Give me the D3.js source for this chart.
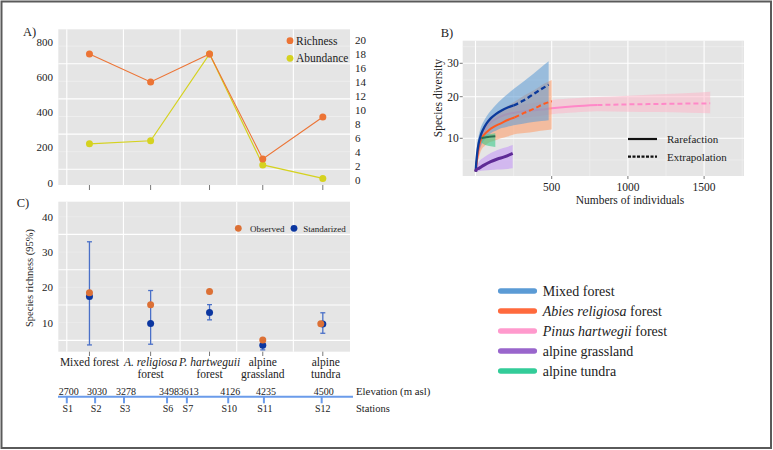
<!DOCTYPE html>
<html>
<head>
<meta charset="utf-8">
<script src="https://cdn.jsdelivr.net/npm/d3@7"></script>
<style>
body{margin:0;background:#fff;}
svg text{font-family:"Liberation Serif","Times New Roman","DejaVu Serif",serif !important;fill:#222;}
</style>
</head>
<body>
<div id="chart"></div>
<script>

// ---- data: panel A / C (sites) ----
var sites = ["Mixed forest", "A. religiosa forest", "P. hartweguii forest", "alpine grassland", "alpine tundra"];
var sitePos = [0.4, 1.48, 2.52, 3.46, 4.52];
var richness = [18, 14, 18, 3, 9];
var abundance = [220, 237, 730, 100, 23];
var leftTicks = [0, 200, 400, 600, 800];
var rightTicks = [0, 2, 4, 6, 8, 10, 12, 14, 16, 18, 20];

var observed = [18.5, 15.1, 18.8, 5.1, 9.7];
var standardized = [17.4, 9.8, 12.9, 3.6, 9.6];
var ciLow = [3.7, 3.9, 10.8, 2.3, 7.0];
var ciHigh = [32.9, 19.1, 15.1, 4.8, 12.8];
var cTicks = [10, 20, 30, 40];

// ---- data: elevation / stations ----
var elevations = [2700, 3030, 3278, 3498, 3613, 4126, 4235, 4500];
var stations = ["S1", "S2", "S3", "S6", "S7", "S10", "S11", "S12"];
var stationPos = [0, 0.5, 1.01, 1.77, 2.12, 2.85, 3.48, 4.5];

// ---- data: panel B (rarefaction / extrapolation) ----
var mixedN  = [1, 5, 11, 20, 33, 51, 73, 100, 133, 171, 211, 250, 311, 378, 433, 480];
var mixedS  = [2.3, 4.3, 6.5, 8.7, 10.55, 12.2, 13.6, 14.8, 15.8, 16.7, 17.4, 17.9, 19.0, 20.7, 22.3, 23.6];
var mixedHi = [2.3, 5.5, 8.8, 10.5, 12.4, 13.9, 15.3, 16.6, 18.0, 19.4, 20.8, 22.3, 24.4, 26.8, 28.9, 30.6];
var mixedLo = [2.3, 3.5, 5.0, 6.7, 8.0, 9.3, 10.2, 11.2, 11.8, 12.45, 12.8, 13.15, 13.5, 13.9, 14.15, 14.35];

var abiesN  = [1, 7, 16, 27, 40, 60, 89, 122, 167, 211, 256, 322, 389, 444, 500];
var abiesS  = [2.3, 4.2, 6.9, 8.8, 10.0, 11.0, 12.0, 12.8, 13.6, 14.4, 15.0, 16.15, 17.2, 18.2, 18.9];
var abiesHi = [2.3, 5.0, 7.5, 9.5, 11.0, 12.6, 14.3, 15.5, 16.8, 17.8, 18.8, 20.4, 22.1, 23.7, 25.0];
var abiesLo = [2.3, 3.3, 4.8, 6.2, 7.4, 8.2, 9.0, 9.45, 10.0, 10.45, 11.0, 11.3, 11.6, 11.85, 12.1];

var pinusN  = [1, 10, 22, 44, 78, 122, 189, 256, 344, 433, 500, 650, 800, 1000, 1200, 1400, 1540];
var pinusS  = [2.3, 5.0, 7.3, 10.4, 12.95, 14.4, 15.6, 16.15, 16.6, 16.9, 17.2, 17.7, 18.0, 18.15, 18.25, 18.35, 18.4];
var pinusHi = [2.3, 6.0, 8.8, 12.0, 14.5, 15.9, 17.0, 17.7, 18.3, 18.8, 19.2, 19.6, 19.9, 20.3, 20.7, 21.1, 21.5];
var pinusLo = [2.3, 4.0, 6.0, 8.8, 11.0, 12.6, 13.8, 14.5, 15.0, 15.4, 15.8, 16.2, 16.5, 16.4, 16.3, 16.15, 16.0];

var grassN  = [1, 7, 22, 56, 100, 144, 189, 244];
var grassS  = [2.3, 2.8, 3.05, 3.8, 4.6, 5.2, 5.7, 6.5];
var grassHi = [2.3, 3.3, 4.5, 5.6, 6.6, 7.3, 7.8, 8.45];
var grassLo = [2.3, 2.3, 2.4, 2.55, 2.66, 2.75, 2.85, 3.05];

var tundraN  = [38, 60, 90, 130];
var tundraS  = [10.0, 10.2, 10.35, 10.5];
var tundraHi = [10.5, 10.8, 11.0, 11.2];
var tundraLo = [9.0, 8.5, 8.2, 8.0];

var sampleSize = {mixed: 250, abies: 256, pinus: 800, grass: 244, tundra: 130};
var bXTicks = [500, 1000, 1500];
var bYTicks = [10, 20, 30];

var habitats = ["Mixed forest", "Abies religiosa forest", "Pinus hartwegii forest", "alpine grassland", "alpine tundra"];

// ---- colours ----
var bgCol = "#e5e5e5";
var cRich = "#ec7435", cAbun = "#d5d21f";
var cObs = "#dc7035", cStd = "#0b36a0", cErr = "#4a70c8";
var cElev = "#6a9bea";
var legendCol = ["#5b9bd5", "#ff6a3d", "#ff9acd", "#9966cc", "#33cc99"];
var serif = "'Liberation Serif', 'Times New Roman', 'DejaVu Serif', serif";

var svg = d3.select("#chart").append("svg")
    .attr("width", 773)
    .attr("height", 450)
    .attr("font-family", serif);

svg.append("rect")
    .attr("x", 1.5).attr("y", 1.5)
    .attr("width", 769.5).attr("height", 446.5)
    .attr("fill", "none")
    .attr("stroke", "#5a5a5a")
    .attr("stroke-width", 2);

function label(g, x, y, s, size, anchor){
    return g.append("text")
        .attr("x", x).attr("y", y)
        .attr("dominant-baseline", "central")
        .attr("text-anchor", anchor || "start")
        .style("font-family", serif)
        .style("font-size", size + "px")
        .text(s);
}

var x = d3.scaleLinear().domain([-0.15, 5.0]).range([58.3, 350]);
var vGrid = [0, 1, 2, 3, 4];

/** Panel A **/
var gA = svg.append("g").attr("class", "panelA");
var yL = d3.scaleLinear().domain([0, 800]).range([182.5, 41.7]);
var yR = d3.scaleLinear().domain([0, 20]).range([180, 40]);
var gridAMajor = [75, 275, 475, 675], gridAMinor = [175, 375, 575, 775];

gA.append("rect").attr("x", x.range()[0]).attr("y", 29.3)
    .attr("width", x.range()[1] - x.range()[0]).attr("height", 185 - 29.3)
    .attr("fill", bgCol);
gA.selectAll(".gmin").data(gridAMinor).enter().append("line")
    .attr("x1", x.range()[0]).attr("x2", x.range()[1])
    .attr("y1", function(d){ return yL(d); }).attr("y2", function(d){ return yL(d); })
    .attr("stroke", "#f4f4f4").attr("stroke-width", 0.6);
gA.selectAll(".gmaj").data(gridAMajor).enter().append("line")
    .attr("x1", x.range()[0]).attr("x2", x.range()[1])
    .attr("y1", function(d){ return yL(d); }).attr("y2", function(d){ return yL(d); })
    .attr("stroke", "#fff").attr("stroke-width", 1.1);
gA.selectAll(".gv").data(vGrid).enter().append("line")
    .attr("x1", function(d){ return x(d); }).attr("x2", function(d){ return x(d); })
    .attr("y1", 29.3).attr("y2", 185)
    .attr("stroke", "#fff").attr("stroke-width", 1.1);

leftTicks.forEach(function(t){ label(gA, 53, yL(t), t, 11, "end"); });
rightTicks.forEach(function(t){ label(gA, 355, yR(t), t, 11, "start"); });

gA.selectAll(".tick").data(sitePos).enter().append("line")
    .attr("x1", function(d){ return x(d); }).attr("x2", function(d){ return x(d); })
    .attr("y1", 185).attr("y2", 190)
    .attr("stroke", "#555").attr("stroke-width", 0.8);

var lineA = d3.line();
gA.append("path")
    .attr("d", lineA(sitePos.map(function(p, i){ return [x(p), yL(abundance[i])]; })))
    .attr("fill", "none").attr("stroke", cAbun).attr("stroke-width", 1.2);
gA.append("path")
    .attr("d", lineA(sitePos.map(function(p, i){ return [x(p), yR(richness[i])]; })))
    .attr("fill", "none").attr("stroke", cRich).attr("stroke-width", 1.1);
gA.selectAll(".dotAb").data(abundance).enter().append("circle")
    .attr("cx", function(d, i){ return x(sitePos[i]); })
    .attr("cy", function(d){ return yL(d); })
    .attr("r", 3.5).attr("fill", cAbun);
gA.selectAll(".dotRi").data(richness).enter().append("circle")
    .attr("cx", function(d, i){ return x(sitePos[i]); })
    .attr("cy", function(d){ return yR(d); })
    .attr("r", 3.5).attr("fill", cRich);

gA.append("circle").attr("cx", 290).attr("cy", 40.7).attr("r", 3.4).attr("fill", cRich);
label(gA, 296, 40.7, "Richness", 11.5);
gA.append("circle").attr("cx", 290).attr("cy", 58.3).attr("r", 3.4).attr("fill", cAbun);
label(gA, 296, 58.3, "Abundance", 11.5);
label(gA, 23, 31.7, "A)", 12.5);

/** Panel C **/
var gC = svg.append("g").attr("class", "panelC");
var yC = d3.scaleLinear().domain([0, 40]).range([358, 216.7]);
var gridCMajor = [5, 15, 25, 35], gridCMinor = [10, 20, 30, 40];

gC.append("rect").attr("x", x.range()[0]).attr("y", 201.7)
    .attr("width", x.range()[1] - x.range()[0]).attr("height", 351.7 - 201.7)
    .attr("fill", bgCol);
gC.selectAll(".gmin").data(gridCMinor).enter().append("line")
    .attr("x1", x.range()[0]).attr("x2", x.range()[1])
    .attr("y1", function(d){ return yC(d); }).attr("y2", function(d){ return yC(d); })
    .attr("stroke", "#eeeeee").attr("stroke-width", 0.6);
gC.selectAll(".gmaj").data(gridCMajor).enter().append("line")
    .attr("x1", x.range()[0]).attr("x2", x.range()[1])
    .attr("y1", function(d){ return yC(d); }).attr("y2", function(d){ return yC(d); })
    .attr("stroke", "#fff").attr("stroke-width", 1.1);
gC.selectAll(".gv").data(vGrid).enter().append("line")
    .attr("x1", function(d){ return x(d); }).attr("x2", function(d){ return x(d); })
    .attr("y1", 201.7).attr("y2", 351.7)
    .attr("stroke", "#fff").attr("stroke-width", 1.1);

cTicks.forEach(function(t){ label(gC, 53, yC(t), t, 11, "end"); });
gC.append("text")
    .attr("transform", "translate(29.3,278) rotate(-90)")
    .attr("text-anchor", "middle").attr("dominant-baseline", "central")
    .style("font-family", serif)
    .style("font-size", "10.5px")
    .text("Species richness (95%)");

gC.selectAll(".tick").data(sitePos).enter().append("line")
    .attr("x1", function(d){ return x(d); }).attr("x2", function(d){ return x(d); })
    .attr("y1", 351.7).attr("y2", 356)
    .attr("stroke", "#555").attr("stroke-width", 0.8);

// error bars
sitePos.forEach(function(p, i){
    var cx = x(p);
    gC.append("line").attr("x1", cx).attr("x2", cx)
        .attr("y1", yC(ciLow[i])).attr("y2", yC(ciHigh[i]))
        .attr("stroke", cErr).attr("stroke-width", 1.3);
    [ciLow[i], ciHigh[i]].forEach(function(v){
        gC.append("line").attr("x1", cx - 2.5).attr("x2", cx + 2.5)
            .attr("y1", yC(v)).attr("y2", yC(v))
            .attr("stroke", cErr).attr("stroke-width", 1.3);
    });
});
gC.selectAll(".dotStd").data(standardized).enter().append("circle")
    .attr("cx", function(d, i){ return x(sitePos[i]); })
    .attr("cy", function(d){ return yC(d); })
    .attr("r", 3.5).attr("fill", cStd);
gC.selectAll(".dotObs").data(observed).enter().append("circle")
    .attr("cx", function(d, i){ return x(sitePos[i]) - (i == 4 ? 2 : 0); })
    .attr("cy", function(d){ return yC(d); })
    .attr("r", 3.5).attr("fill", cObs);

gC.append("circle").attr("cx", 238.3).attr("cy", 228.3).attr("r", 3.4).attr("fill", cObs);
label(gC, 250, 229, "Observed", 9);
gC.append("circle").attr("cx", 294).attr("cy", 228.3).attr("r", 3.4).attr("fill", cStd);
label(gC, 303.3, 229, "Standarized", 9);
label(gC, 16.7, 203.3, "C)", 12.5);

// x labels (two lines, italic genus)
var siteLines = [
    [{t: "Mixed forest"}],
    [{t: "A. religiosa", it: true}, {t: "forest"}],
    [{t: "P. hartweguii", it: true}, {t: "forest"}],
    [{t: "alpine"}, {t: "grassland"}],
    [{t: "alpine"}, {t: "tundra"}]
];
siteLines.forEach(function(lines, i){
    lines.forEach(function(l, k){
        label(gC, x(sitePos[i]) + (i == 4 ? 3 : 0), 361.7 + k * 12.6, l.t, 11.5, "middle")
            .style("font-style", l.it ? "italic" : "normal");
    });
});

/** Elevation / stations **/
var gE = svg.append("g").attr("class", "elev");
gE.append("line").attr("x1", 58).attr("x2", 353).attr("y1", 396.7).attr("y2", 396.7)
    .attr("stroke", cElev).attr("stroke-width", 2);
gE.selectAll(".st").data(stationPos).enter().append("line")
    .attr("x1", function(d){ return x(d); }).attr("x2", function(d){ return x(d); })
    .attr("y1", 396.7).attr("y2", 403.3)
    .attr("stroke", cElev).attr("stroke-width", 2);
elevations.forEach(function(e, i){ label(gE, x(stationPos[i]) + 2, 391, e, 10, "middle"); });
stations.forEach(function(s, i){ label(gE, x(stationPos[i]) + 1, 408.5, s, 10, "middle"); });
label(gE, 356, 391, "Elevation (m asl)", 10.8);
label(gE, 356, 408.5, "Stations", 10.5);

/** Panel B **/
var gB = svg.append("g").attr("class", "panelB");
var xB = d3.scaleLinear().domain([0, 1500]).range([475.5, 704.1]);
var yB = d3.scaleLinear().domain([0, 10, 20, 30, 40]).range([181.5, 138.3, 96.7, 63.3, 30]);
var bL = 462.7, bR = 744, bT = 40.7, bBt = 176;

gB.append("rect").attr("x", bL).attr("y", bT).attr("width", bR - bL).attr("height", bBt - bT)
    .attr("fill", bgCol);
[250, 750, 1250, 1750].forEach(function(v){
    if (xB(v) < bR) gB.append("line").attr("x1", xB(v)).attr("x2", xB(v)).attr("y1", bT).attr("y2", bBt)
        .attr("stroke", "#f2f2f2").attr("stroke-width", 0.6);
});
[5, 15, 25, 35].forEach(function(v){
    gB.append("line").attr("x1", bL).attr("x2", bR).attr("y1", yB(v)).attr("y2", yB(v))
        .attr("stroke", "#f2f2f2").attr("stroke-width", 0.6);
});
[0, 500, 1000, 1500].forEach(function(v){
    gB.append("line").attr("x1", xB(v)).attr("x2", xB(v)).attr("y1", bT).attr("y2", bBt)
        .attr("stroke", "#fff").attr("stroke-width", 1.1);
});
bYTicks.forEach(function(v){
    gB.append("line").attr("x1", bL).attr("x2", bR).attr("y1", yB(v)).attr("y2", yB(v))
        .attr("stroke", "#fff").attr("stroke-width", 1.1);
    gB.append("line").attr("x1", bL - 3).attr("x2", bL).attr("y1", yB(v)).attr("y2", yB(v))
        .attr("stroke", "#555").attr("stroke-width", 0.8);
    label(gB, bL - 4, yB(v), v, 11.5, "end");
});
bXTicks.forEach(function(v){
    gB.append("line").attr("x1", xB(v)).attr("x2", xB(v)).attr("y1", bBt).attr("y2", bBt + 3)
        .attr("stroke", "#555").attr("stroke-width", 0.8);
    label(gB, xB(v), 186.7, v, 11.5, "middle");
});

function pts(N, S){ return N.map(function(n, i){ return {n: n, s: S[i]}; }); }
var curveLine = d3.line().x(function(d){ return xB(d.n); }).y(function(d){ return yB(d.s); }).curve(d3.curveMonotoneX);
var band = d3.area().x(function(d){ return xB(d.n); })
    .y0(function(d){ return yB(d.lo); }).y1(function(d){ return yB(d.hi); })
    .curve(d3.curveMonotoneX);

function drawBand(N, lo, hi, col, op){
    gB.append("path")
        .attr("d", band(N.map(function(n, i){ return {n: n, lo: lo[i], hi: hi[i]}; })))
        .attr("fill", col).attr("fill-opacity", op);
}
function drawCurve(N, S, split, col, w){
    var p = pts(N, S);
    gB.append("path").attr("d", curveLine(p.filter(function(d){ return d.n <= split; })))
        .attr("fill", "none").attr("stroke", col).attr("stroke-width", w);
    var ext = p.filter(function(d){ return d.n >= split; });
    if (ext.length > 1)
        gB.append("path").attr("d", curveLine(ext))
            .attr("fill", "none").attr("stroke", col).attr("stroke-width", w)
            .attr("stroke-dasharray", "5,3");
}

drawBand(pinusN, pinusLo, pinusHi, "#ffb3c8", 0.5);
drawCurve(pinusN, pinusS, sampleSize.pinus, "#ff88c8", 2);
drawBand(abiesN, abiesLo, abiesHi, "#ff9a66", 0.55);
drawBand(mixedN, mixedLo, mixedHi, "#5b9bd5", 0.55);
drawBand(tundraN, tundraLo, tundraHi, "#3cc98a", 0.6);
drawBand(grassN, grassLo, grassHi, "#c49af5", 0.6);
drawCurve(abiesN, abiesS, sampleSize.abies, "#ff5a1f", 2);
drawCurve(mixedN, mixedS, sampleSize.mixed, "#0b3a9c", 2.3);
drawCurve(tundraN, tundraS, sampleSize.tundra, "#2d6e50", 2);
drawCurve(grassN, grassS, sampleSize.grass, "#5e2a96", 3);

gB.append("line").attr("x1", 628).attr("x2", 657).attr("y1", 139).attr("y2", 139)
    .attr("stroke", "#111").attr("stroke-width", 2.2);
gB.append("line").attr("x1", 628).attr("x2", 657).attr("y1", 156.7).attr("y2", 156.7)
    .attr("stroke", "#111").attr("stroke-width", 2.2).attr("stroke-dasharray", "3,1.5");
label(gB, 667, 139, "Rarefaction", 11);
label(gB, 667, 156.7, "Extrapolation", 11);

label(gB, 630, 200, "Numbers of individuals", 11.5, "middle");
gB.append("text")
    .attr("transform", "translate(438,98) rotate(-90)")
    .attr("text-anchor", "middle").attr("dominant-baseline", "central")
    .style("font-family", serif)
    .style("font-size", "11.5px")
    .text("Species diversity");
label(gB, 440.7, 33, "B)", 12.5);

/** habitat legend **/
var gL = svg.append("g").attr("class", "legend");
var legY = d3.scalePoint().domain(habitats).range([291, 371]);
habitats.forEach(function(h, i){
    var yy = legY(h);
    gL.append("line").attr("x1", 500.7).attr("x2", 534.3).attr("y1", yy).attr("y2", yy)
        .attr("stroke", legendCol[i]).attr("stroke-width", 5.5).attr("stroke-linecap", "round");
    var t = gL.append("text").attr("x", 542.7).attr("y", yy)
        .attr("dominant-baseline", "central")
        .style("font-family", serif)
        .style("font-size", "14px");
    var m = h.match(/^(Abies religiosa|Pinus hartwegii)(.*)$/);
    if (m) {
        t.append("tspan").style("font-style", "italic").text(m[1]);
        t.append("tspan").text(m[2]);
    } else {
        t.text(h);
    }
});

</script>
</body>
</html>
